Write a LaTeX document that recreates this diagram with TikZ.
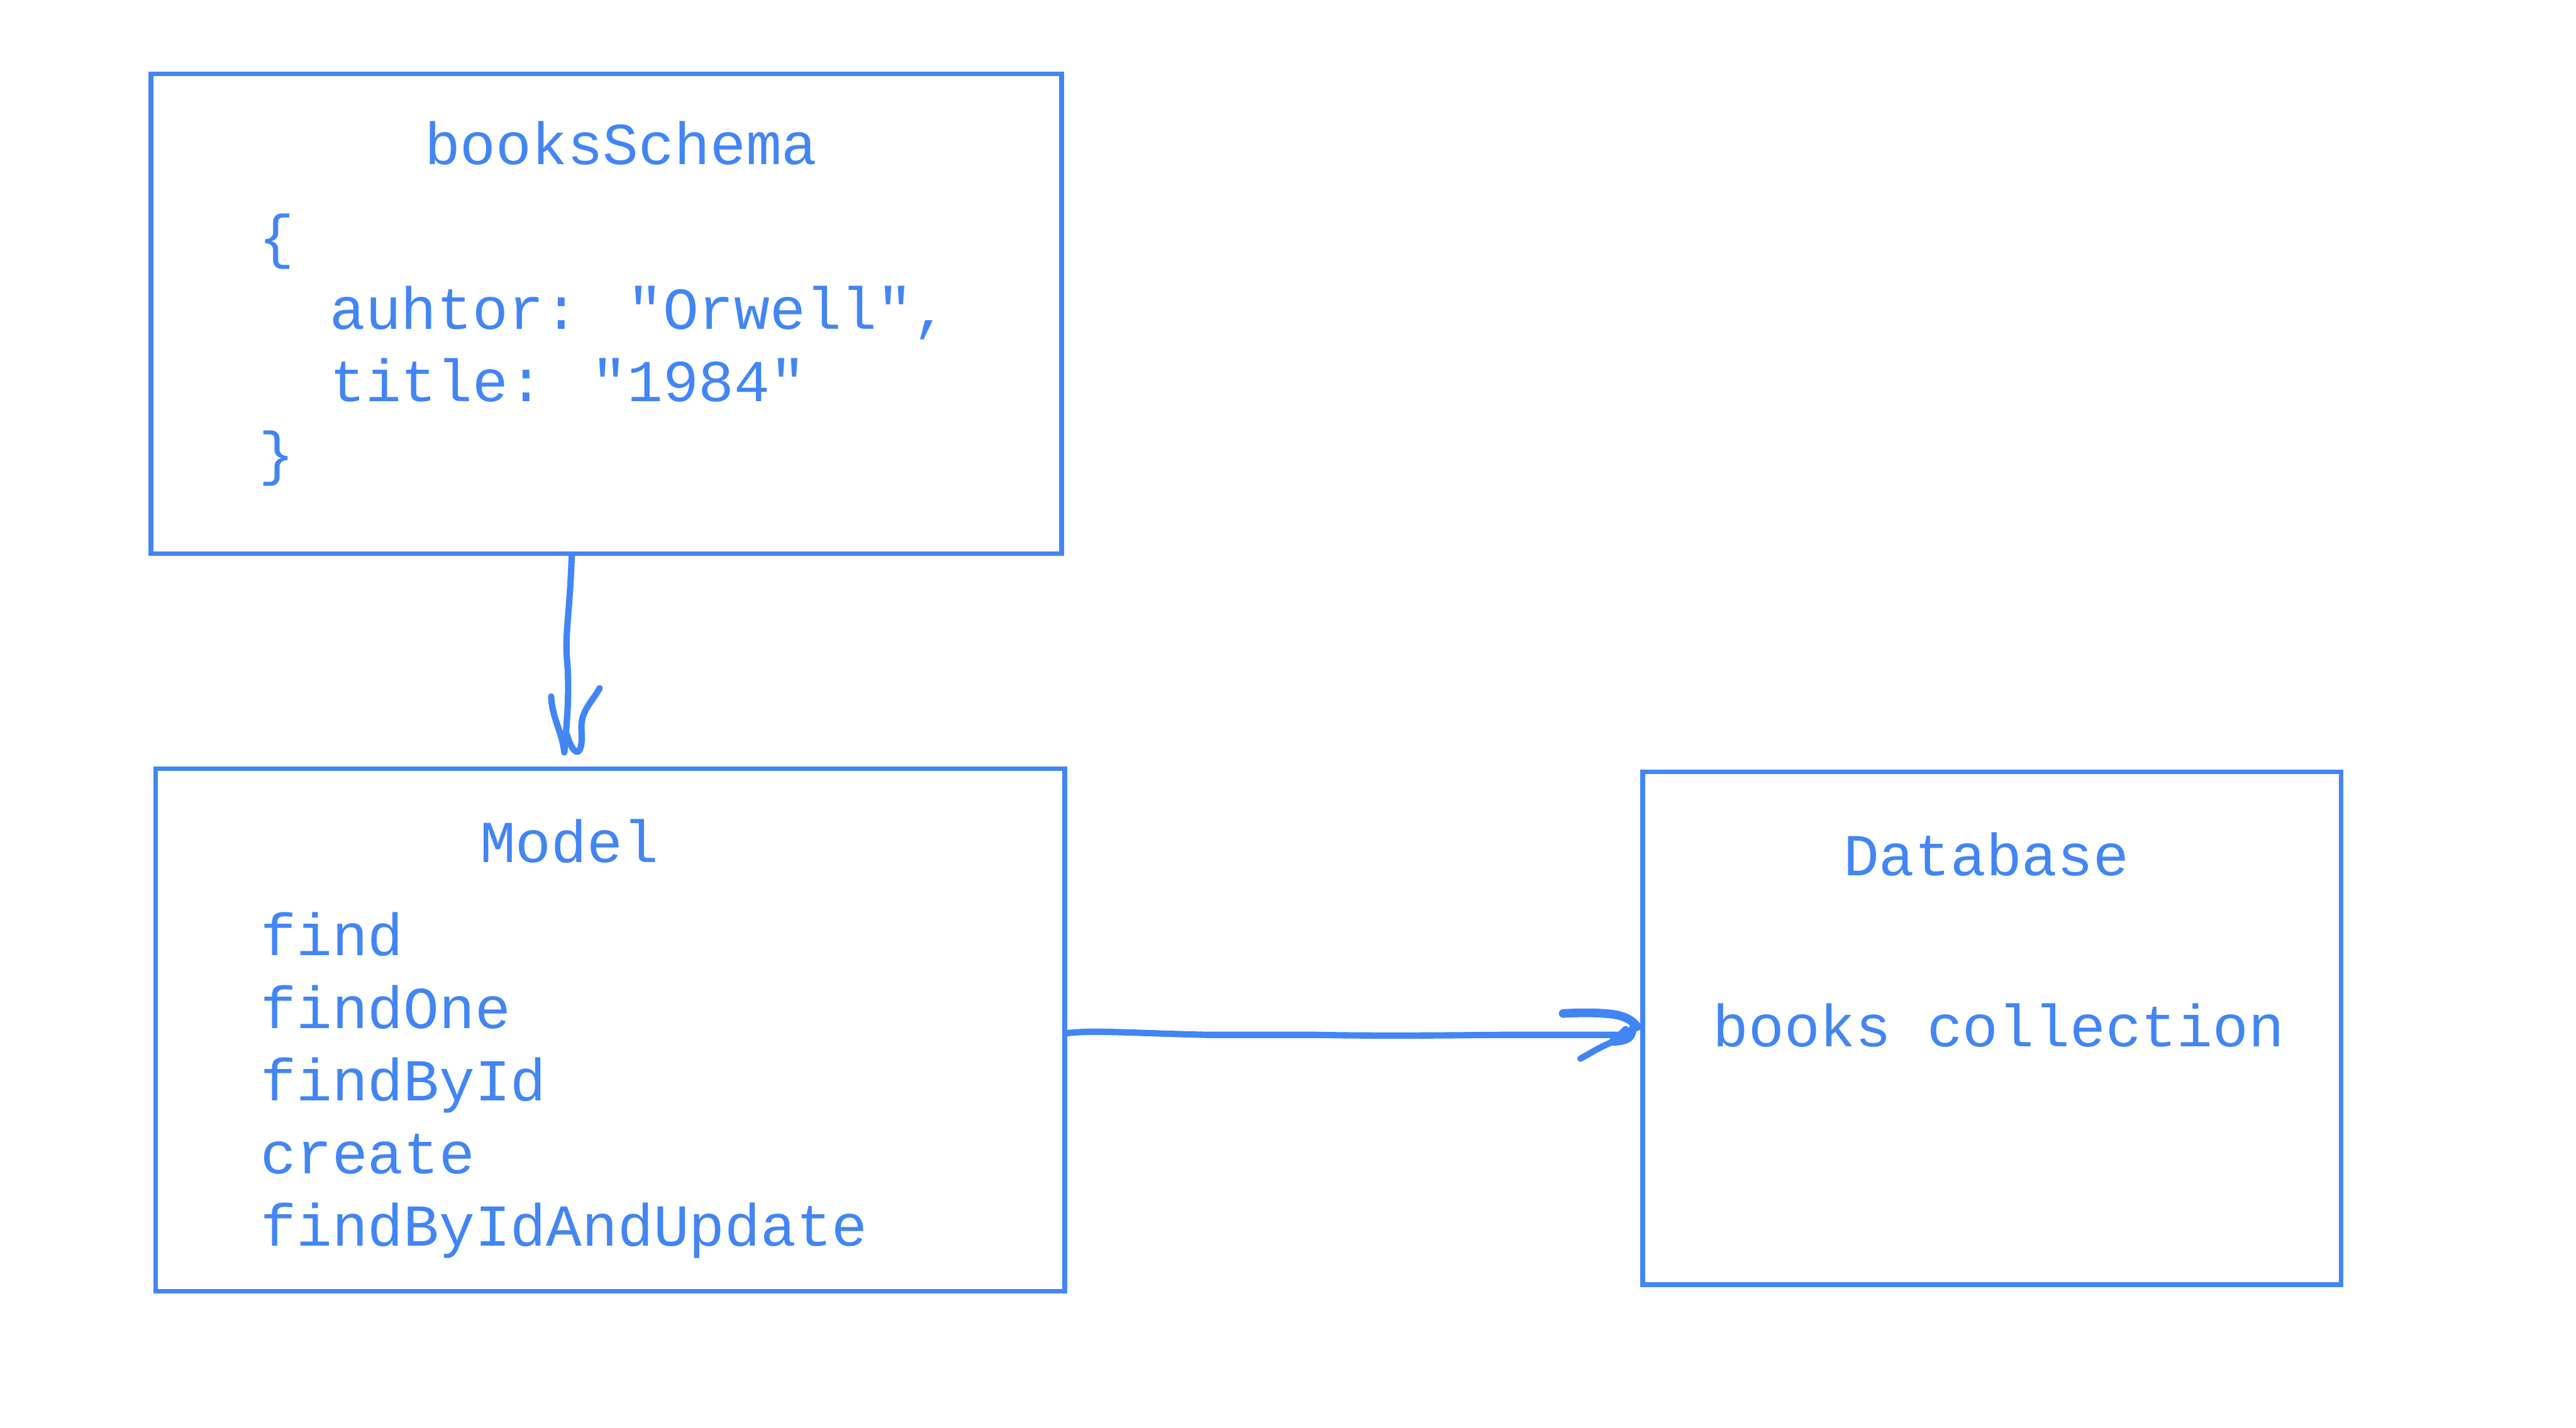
\documentclass[tikz,border=0pt]{standalone}
\usepackage{fontspec}
\newfontfamily\codefont{Liberation Mono}
\usepackage{tikz}
\usetikzlibrary{positioning,shapes,arrows,calc}

\definecolor{gblue}{HTML}{4285F4}
\tikzset{
  frame/.style={draw=gblue, line width=0.8pt, inner sep=0pt},
  code/.style={text=gblue, inner sep=0pt, font=\codefont\fontsize{10.3}{12.5}\selectfont},
  pen/.style={draw=gblue, line width=1.1pt, line cap=round, line join=round}
}

\begin{document}
\begin{tikzpicture}[x=0.01cm, y=-0.01cm]
				\useasboundingbox (0,0) rectangle (1568,869);
				% boxes
				\node[frame, minimum width=5.54cm, minimum height=2.92cm] (schema) at (369, 191) {};
				\node[frame, minimum width=5.53cm, minimum height=3.18cm] (model) at (371.5, 627) {};
				\node[frame, minimum width=4.25cm, minimum height=3.12cm] (db) at (1212.5, 626) {};
				% schema text
				\node[code, anchor=base] (schematitle) at (378, 100) {booksSchema};
				\node[code, anchor=base west] (open) at (157, 156.5) {\{};
				\node[code, anchor=base west] (author) at (200, 200.5) {auhtor: "Orwell",};
				\node[code, anchor=base west] (title) at (200, 244.5) {title: "1984"};
				\node[code, anchor=base west] (close) at (157, 288.5) {\}};
				% model text
				\node[code, anchor=base] (modeltitle) at (346.5, 525) {Model};
				\node[code, anchor=base west] (find) at (158, 581.5) {find};
				\node[code, anchor=base west] (findone) at (158, 626) {findOne};
				\node[code, anchor=base west] (findbyid) at (158, 670) {findById};
				\node[code, anchor=base west] (create) at (158, 714.5) {create};
				\node[code, anchor=base west] (update) at (158, 758.5) {findByIdAndUpdate};
				% database text
				\node[code, anchor=base] (dbtitle) at (1209, 533) {Database};
				\node[code, anchor=base] (books) at (1216.5, 637) {books collection};
				% schema -> model
				\coordinate (tipA) at (343.5, 458);
				\draw[pen] ($(schema.south)+(-21,0)$) .. controls (347,370) and (344,385) .. (345,400)
				  .. controls (347,420) and (345,440) .. (tipA);
				\draw[pen] (335.5,424) .. controls (336,437) and (342,445) .. (tipA);
				\draw[pen] (365,419) .. controls (360,428) and (353,433) .. (354,445)
				  .. controls (355,462) and (349,461) .. (345,447);
				% model -> database
				\coordinate (tipB) at ($(db.west)+(-2,-1)$);
				\draw[pen] ($(model.east)+(0,2)$) .. controls (665,627) and (690,629) .. (735,630)
				  -- (800,630) .. controls (850,631) and (900,630) .. (920,630) -- (990,630) -- (tipB);
				\draw[pen, line width=1.5pt] (951.5,617) .. controls (970,616) and (982,617) .. (986.5,618.5)
				  .. controls (992,620) and (995,623) .. (tipB)
				  .. controls (990,626) and (998,633) .. (982.5,634);
				\draw[pen] (962,644.5) .. controls (970,640) and (975,637) .. (980,635)
				  .. controls (985,631) and (988,628) .. (989.5,626.5);
			\end{tikzpicture}
\end{document}
